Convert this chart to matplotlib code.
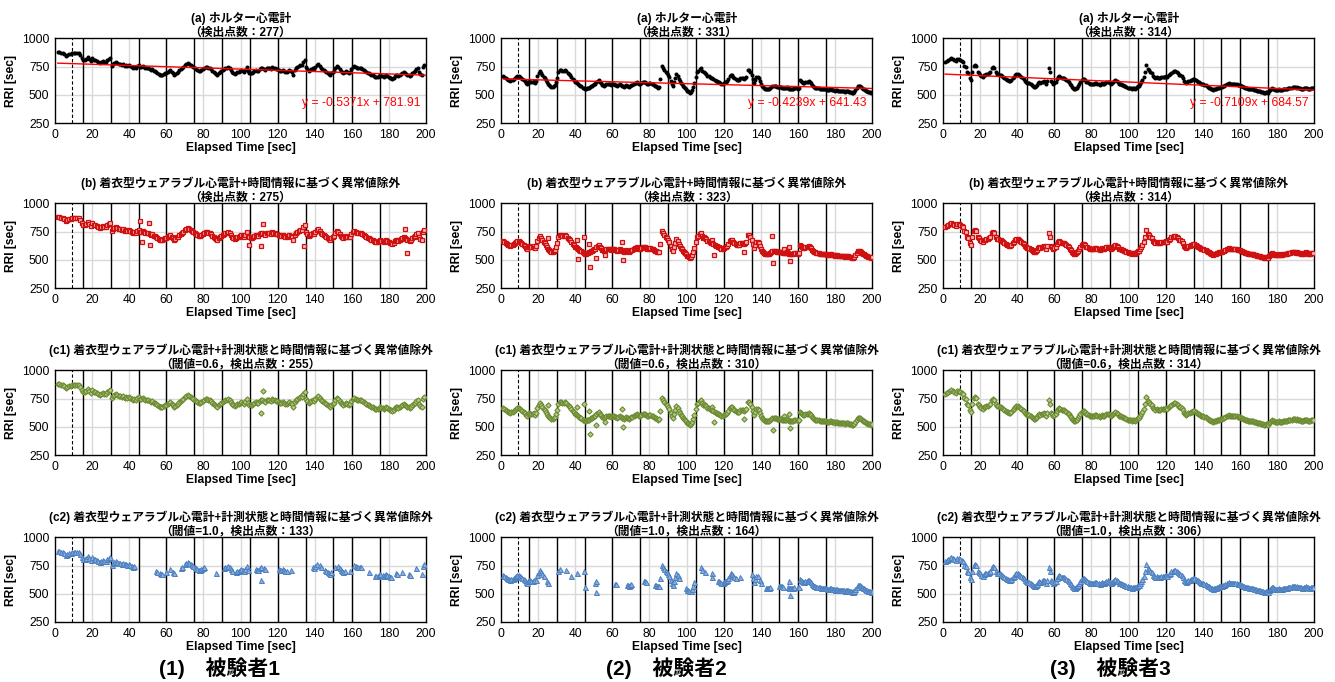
import numpy as np
import matplotlib.pyplot as plt

plt.rcParams['font.family'] = ['Liberation Sans', 'Noto Sans CJK JP']

# ---- data (RRI in ms, one row per ~10 s of beats) ----
s1_start = 0.6
s1_rri = [
    [880, 880, 875, 870, 860, 845, 850, 860, 865, 870, 870],
    [870, 868, 872, 855, 830, 812, 808, 820, 832, 818, 802, 826],
    [812, 805, 798, 790, 785, 795, 800, 788, 792, 805, 815, 825],
    [758, 770, 785, 790, 782, 776, 770, 765, 772, 760, 762, 755, 768],
    [752, 745, 740, 748, 738, 755, 762, 750, 745, 752, 748, 742, 738],
    [735, 728, 722, 730, 715, 710, 702, 695, 688, 680, 672, 676, 684, 690],
    [692, 700, 712, 722, 705, 690, 680, 688, 698, 706, 716, 725, 735, 745],
    [765, 775, 780, 772, 768, 752, 745, 738, 730, 722, 715, 712, 718],
    [725, 738, 745, 750, 742, 735, 726, 712, 700, 690, 682, 678, 695, 705],
    [708, 718, 725, 735, 742, 748, 738, 720, 705, 695, 688, 692, 700, 705],
    [715, 722, 710, 702, 718, 745, 712, 698, 690, 695, 705, 712, 718, 710],
    [715, 725, 735, 740, 728, 720, 735, 742, 738, 730, 745, 740, 735, 728],
    [730, 722, 715, 710, 720, 712, 705, 700, 715, 722, 712, 705, 672, 718],
    [735, 748, 755, 762, 768, 790, 805, 750, 725, 715, 722, 730, 738],
    [728, 745, 765, 775, 758, 742, 730, 722, 712, 700, 690, 682, 675, 690],
    [700, 715, 735, 752, 748, 730, 712, 700, 695, 705, 710, 702, 698, 705],
    [725, 745, 752, 748, 740, 735, 742, 738, 728, 718, 710, 702, 695, 690],
    [688, 680, 672, 665, 660, 658, 662, 668, 675, 670, 665, 660, 668, 672, 665],
    [660, 652, 645, 640, 650, 665, 680, 672, 668, 676, 685, 692, 700, 695, 688],
    [680, 672, 668, 678, 690, 702, 715, 725, 738, 705, 685, 672, 745, 765],
]
s1_out_t = [46.0, 47.0, 50.5, 51.2, 104.5, 111.0, 112.0, 134.0, 188.5, 189.5]
s1_out_rri = [845, 655, 825, 632, 635, 622, 820, 622, 775, 562]
s1_out_c1 = [0, 0, 0, 0, 0, 1, 1, 0, 0, 0]
s1_c2_keep = [(0, 43), (54.5, 55.5), (56.5, 58.5), (59.5, 60.5), (61.5, 62.5),
              (63.5, 64.5), (67.5, 68.5), (69.5, 81), (86.5, 87.5), (90.5, 95.5),
              (97.5, 104.5), (107.5, 111.5), (112.5, 113.5), (120.5, 125.5),
              (126.5, 127.5), (138.5, 141.5), (142.5, 143.5), (145.5, 149.5),
              (150.5, 151.5), (152.5, 156.5), (158.5, 159.5), (160.5, 165.5),
              (168.5, 169.5), (172.5, 175.5), (176.5, 181.5), (183.5, 184.5),
              (186.5, 187.5), (190.5, 191.5), (194.5, 195.5), (197.5, 200.5)]
s1_counts = [277, 275, 255, 133]
s1_fit = (-0.5371, 781.91)

s2_start = 0.5
s2_rri = [
    [668, 660, 652, 640, 632, 628, 625, 630, 634, 640, 648, 656, 664, 668, 660],
    [652, 640, 632, 620, 605, 598, 612, 622, 618, 610, 615, 620, 602, 625, 668, 695],
    [712, 690, 672, 660, 645, 632, 615, 600, 585, 575, 570, 572, 580, 590, 610, 650],
    [705, 722, 718, 712, 715, 720, 708, 695, 685, 672, 655, 642, 630, 618, 610],
    [602, 595, 588, 582, 575, 565, 560, 556, 552, 558, 562, 565, 570, 575, 580, 585, 592],
    [600, 612, 625, 632, 615, 602, 590, 585, 582, 588, 594, 598, 600, 596, 590, 592, 598],
    [595, 590, 585, 580, 588, 592, 585, 578, 575, 572, 578, 585, 580, 574, 570, 578, 585],
    [590, 598, 602, 606, 610, 608, 600, 596, 602, 610, 615, 612, 605, 600, 598, 604, 608],
    [600, 592, 588, 582, 578, 572, 565, 570, 640, 752, 738, 722, 700, 690, 675, 660],
    [625, 600, 582, 610, 648, 682, 665, 640, 622, 605, 595, 582, 570, 558, 548, 538, 532],
    [525, 518, 522, 545, 572, 605, 655, 700, 712, 725, 742, 712, 700, 690, 682],
    [670, 665, 660, 652, 645, 640, 632, 625, 620, 612, 610, 605, 600, 598, 604, 610],
    [615, 625, 640, 665, 680, 675, 662, 650, 640, 632, 628, 635, 645, 652, 648],
    [642, 650, 655, 718, 722, 705, 672, 640, 602, 632, 660, 655, 645, 625, 600],
    [582, 568, 560, 555, 552, 550, 548, 555, 560, 568, 575, 582, 578, 575, 572, 570, 568, 572],
    [570, 565, 562, 560, 558, 562, 568, 560, 555, 550, 548, 552, 555, 560, 562, 558, 556, 560],
    [635, 625, 610, 602, 605, 610, 612, 618, 622, 615, 605, 590, 578, 570, 565, 562, 558],
    [560, 556, 552, 548, 550, 555, 552, 548, 545, 542, 545, 550, 548, 545, 542, 540, 538, 542],
    [540, 538, 535, 532, 535, 538, 534, 530, 528, 532, 535, 530, 526, 524, 522, 520, 518, 522, 528],
    [545, 562, 575, 582, 578, 572, 562, 555, 548, 540, 535, 530, 526, 524, 522, 520, 524],
]
s2_out_t = [25.5, 40.8, 41.3, 44.5, 47.2, 47.8, 51.0, 56.0, 65.3, 66.0,
            109.0, 113.8, 114.8, 130.7, 145.9, 146.5, 152.5, 155.4, 155.9]
s2_out_rri = [692, 680, 505, 700, 640, 440, 515, 545, 660, 500,
              692, 680, 540, 570, 710, 470, 600, 612, 490]
s2_out_c1 = [1, 1, 0, 1, 1, 1, 1, 1, 1, 1, 1, 1, 1, 1, 0, 1, 1, 1, 1]
s2_c2_keep = [(0, 18), (18.5, 23.5), (24.5, 25.5), (30.5, 31.8), (34.5, 35.8),
              (37.5, 38.5), (40.5, 41.0), (44.5, 45.5), (50.5, 51.5), (61.5, 62.5),
              (67.5, 70.5), (76.5, 78.5), (82.5, 96), (99.5, 101.5), (102.5, 104.5),
              (107.5, 108.5), (109.5, 110.5), (113.5, 114.2), (116.5, 126.5),
              (128.5, 129.5), (134.5, 138.5), (139.5, 140.5), (142.5, 145.5),
              (149.5, 152.5), (154.5, 158.5), (159.5, 200.5)]
s2_counts = [331, 323, 310, 164]
s2_fit = (-0.4239, 641.43)

s3_start = 0.3
s3_rri = [
    [790, 800, 812, 820, 825, 818, 805, 800, 815, 820, 808, 800],
    [790, 752, 745, 700, 690, 652, 632, 700, 758, 762, 758, 705, 695, 680],
    [665, 660, 672, 680, 688, 684, 690, 705, 735, 748, 742, 700, 688, 682],
    [680, 672, 665, 655, 648, 640, 635, 628, 620, 625, 632, 648, 662, 675, 682],
    [685, 678, 670, 662, 650, 640, 625, 610, 602, 605, 608, 600, 590, 580, 572, 568],
    [578, 590, 602, 610, 605, 612, 618, 620, 612, 600, 622, 740, 702, 625, 610, 600],
    [605, 612, 640, 662, 665, 658, 652, 650, 645, 640, 632, 625, 610, 598, 585, 572],
    [560, 555, 552, 558, 565, 578, 595, 615, 630, 642, 638, 628, 618, 610, 605, 600, 598],
    [600, 596, 598, 602, 605, 600, 594, 590, 598, 604, 600, 596, 602, 612, 618, 610, 604],
    [600, 605, 612, 620, 628, 622, 610, 600, 596, 592, 588, 585, 580, 575, 570, 565, 562],
    [560, 558, 555, 558, 562, 556, 560, 568, 575, 582, 600, 615, 635, 655, 705, 762, 728],
    [720, 700, 690, 668, 660, 652, 655, 648, 652, 650, 655, 660, 658, 662, 665],
    [660, 672, 685, 698, 705, 712, 708, 700, 690, 680, 672, 665, 645, 625, 610],
    [605, 612, 620, 625, 630, 628, 640, 638, 632, 625, 618, 612, 606, 600, 598, 594],
    [590, 585, 580, 572, 565, 558, 552, 548, 545, 548, 552, 555, 560, 562, 565, 568, 570, 572],
    [578, 582, 588, 592, 598, 602, 600, 598, 595, 598, 600, 596, 592, 590, 588, 585, 582],
    [575, 570, 566, 562, 558, 560, 556, 552, 550, 548, 552, 550, 546, 542, 540, 538, 536, 535],
    [532, 528, 525, 522, 520, 518, 522, 526, 520, 530, 540, 552, 560, 556, 550, 545, 542, 540, 545],
    [548, 542, 540, 545, 550, 555, 552, 548, 555, 560, 558, 562, 565, 570, 572, 568, 564, 566],
    [562, 558, 560, 556, 552, 555, 558, 562, 565, 560, 556, 552, 555, 558, 562, 560, 555],
]
s3_out_t = []
s3_out_rri = []
s3_out_c1 = []
s3_c2_keep = [(0, 200.5)]
s3_counts = [314, 314, 314, 306]
s3_fit = (-0.7109, 684.57)

start_line = 9
event_lines = [15, 30, 45, 60, 75, 90, 105, 120, 135, 150, 160, 175]
subject_labels = ['(1)\u3000被験者1', '(2)\u3000被験者2', '(3)\u3000被験者3']

row_titles = [
    '(a) ホルター心電計\n（検出点数：{}）',
    '(b) 着衣型ウェアラブル心電計+時間情報に基づく異常値除外\n（検出点数：{}）',
    '(c1) 着衣型ウェアラブル心電計+計測状態と時間情報に基づく異常値除外\n（閾値=0.6，検出点数：{}）',
    '(c2) 着衣型ウェアラブル心電計+計測状態と時間情報に基づく異常値除外\n（閾値=1.0，検出点数：{}）',
]
row_styles = [
    dict(marker='o', ms=2.9, mfc='black', mec='black', mew=0),
    dict(marker='s', ms=3.2, mfc='#f4b6b6', mec='#d01010', mew=0.9),
    dict(marker='D', ms=2.7, mfc='#b5c98e', mec='#6b8a2f', mew=0.8),
    dict(marker='^', ms=3.6, mfc='#8fb0dc', mec='#4a7fc0', mew=0.7),
]


def build_series(rows, start, out_t, out_rri, out_c1, c2_keep):
    rri = np.concatenate([np.array(r, float) for r in rows])
    t = start + np.cumsum(rri) / 1000.0
    ot = np.array(out_t, float)
    orr = np.array(out_rri, float)
    oc1 = np.array(out_c1, bool)
    # (a) holter: base beats
    a = (t, rri)
    # (b) wearable: base beats + misdetected beats
    bt = np.concatenate([t, ot])
    br = np.concatenate([rri, orr])
    order = np.argsort(bt)
    b = (bt[order], br[order])
    # (c1) some misdetections removed
    ct = np.concatenate([t, ot[oc1]]) if len(ot) else t
    cr = np.concatenate([rri, orr[oc1]]) if len(ot) else rri
    order = np.argsort(ct)
    c1 = (ct[order], cr[order])
    # (c2) only beats inside kept windows
    keep = np.zeros(len(c1[0]), bool)
    for lo, hi in c2_keep:
        keep |= (c1[0] >= lo) & (c1[0] < hi)
    c2 = (c1[0][keep], c1[1][keep])
    return [a, b, c1, c2]


subjects = [
    (build_series(s1_rri, s1_start, s1_out_t, s1_out_rri, s1_out_c1, s1_c2_keep), s1_counts, s1_fit),
    (build_series(s2_rri, s2_start, s2_out_t, s2_out_rri, s2_out_c1, s2_c2_keep), s2_counts, s2_fit),
    (build_series(s3_rri, s3_start, s3_out_t, s3_out_rri, s3_out_c1, s3_c2_keep), s3_counts, s3_fit),
]

fig = plt.figure(figsize=(13.35, 6.82), dpi=100)
col_left = [0.0412, 0.3753, 0.7064]
col_width = 0.2780
row_bottom = [0.8196, 0.5777, 0.3328, 0.0880]
row_height = 0.1240
grid_color = '#d9d9d9'

for ci, (series, counts, fit) in enumerate(subjects):
    for ri in range(4):
        ax = fig.add_axes([col_left[ci], row_bottom[ri], col_width, row_height])
        t, r = series[ri]
        m = t <= 200
        t, r = t[m], r[m]

        ax.set_xlim(0, 200)
        ax.set_ylim(250, 1000)
        ax.set_xticks(range(0, 201, 20))
        ax.set_yticks([250, 500, 750, 1000])
        for x in range(20, 200, 20):
            ax.axvline(x, color=grid_color, lw=1, zorder=0)
        for y in (500, 750):
            ax.axhline(y, color=grid_color, lw=1, zorder=0)
        ax.axvline(start_line, color='black', lw=0.8, ls=(0, (3, 2)), zorder=1)
        for x in event_lines:
            ax.axvline(x, color='black', lw=1.0, zorder=1)

        ax.plot(t, r, linestyle='none', zorder=3, **row_styles[ri])

        if ri == 0:
            slope, icpt = fit
            xs = np.array([t[0], 200])
            ax.plot(xs, slope * xs + icpt, color='#ff0000', lw=1.0, zorder=4)
            ax.text(197, 430, 'y = {:.4f}x + {:.2f}'.format(slope, icpt),
                    ha='right', va='center', color='#ff0000', fontsize=8.7, zorder=5)

        ax.set_title(row_titles[ri].format(counts[ri]), fontsize=8.5,
                     fontweight='bold', pad=2, linespacing=1.15)
        ax.set_xlabel('Elapsed Time [sec]', fontsize=8.7, fontweight='bold', labelpad=1)
        ax.set_ylabel('RRI [sec]', fontsize=8.7, fontweight='bold', labelpad=4)
        ax.tick_params(length=0, labelsize=8.7, pad=4)
        for sp in ax.spines.values():
            sp.set_color('black')
            sp.set_linewidth(1.0)

label_x = [220 / 1335, 666 / 1335, 1110 / 1335]
for ci, lab in enumerate(subject_labels):
    fig.text(label_x[ci], 1 - 668 / 682, lab, ha='center', va='center',
             fontsize=15, fontweight='bold')

fig.savefig('out.png', dpi=100)
